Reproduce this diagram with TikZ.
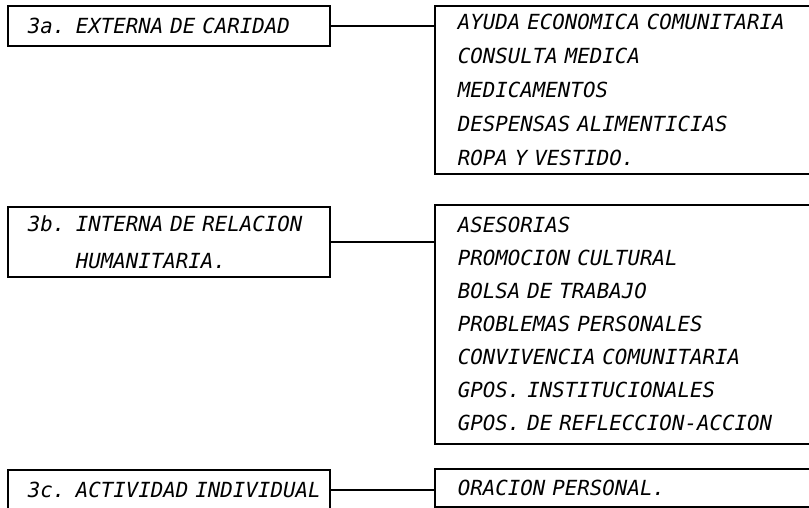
\documentclass[tikz,border=0pt]{standalone}
\usepackage{fontspec}
\setmonofont{DejaVu Sans Mono}
\usepackage{tikz}
\usetikzlibrary{positioning}
\newcommand\typedfont[1]{\fontsize{20.8}{#1}\selectfont\ttfamily\itshape\spaceskip 0.602em\relax}

\begin{document}
\begin{tikzpicture}[x=1pt, y=-1pt, line width=1.6pt,
  lbox/.style={draw, anchor=north west, inner xsep=20pt, inner ysep=0pt, text width=282pt, align=left, font=\typedfont{37}},
  rbox/.style={draw, anchor=north west, inner xsep=23pt, inner ysep=0pt, text width=400pt, align=left, font=\typedfont{34}}
]
\useasboundingbox (0,0) rectangle (809,507);
\clip (0,0) rectangle (809,507);
% kinds of action (left column)
\node[lbox, minimum height=40pt] (ext) at (7,5) {\mbox{3a. EXTERNA DE CARIDAD}};
\node[lbox, minimum height=70pt] (int) at (7,206) {\mbox{3b. INTERNA DE RELACION}\\\phantom{3b. }HUMANITARIA.};
\node[lbox, minimum height=40pt] (ind) at (7,469) {\mbox{3c. ACTIVIDAD INDIVIDUAL}};
% what each one covers (right column, open to the right)
\node[rbox, minimum height=168pt] (extlist) at (434,5) {AYUDA ECONOMICA COMUNITARIA\\CONSULTA MEDICA\\MEDICAMENTOS\\DESPENSAS ALIMENTICIAS\\ROPA Y VESTIDO.};
\node[rbox, minimum height=239pt, font=\typedfont{33}] (intlist) at (434,204) {ASESORIAS\\PROMOCION CULTURAL\\BOLSA DE TRABAJO\\PROBLEMAS PERSONALES\\CONVIVENCIA COMUNITARIA\\GPOS. INSTITUCIONALES\\GPOS. DE REFLECCION-ACCION};
\node[rbox, minimum height=38pt] (indlist) at (434,468) {ORACION PERSONAL.};
% links
\draw (ext.east) -- (ext.east -| extlist.west);
\draw (int.east) -- (int.east -| intlist.west);
\draw (ind.east) -- (ind.east -| indlist.west);
\end{tikzpicture}
\end{document}
